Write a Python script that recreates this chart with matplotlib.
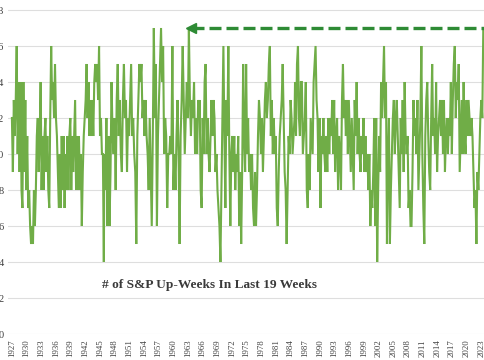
import numpy as np
import matplotlib.pyplot as plt

# number of up-weeks in the trailing 19 weeks in five stretches
seg1_span = (1927.0, 1945.8)
seg1 = [12, 9, 13, 11, 13, 16, 10, 14, 9, 14, 8, 7, 14, 9, 13, 8, 11, 7, 8, 6,
        5, 6, 5, 8, 6, 8, 11, 12, 9, 11, 14, 8, 11, 8, 11, 12, 9, 11, 8, 7,
        12, 16, 13, 14, 12, 15, 12, 11, 9, 7, 10, 7, 11, 8, 11, 7, 10, 8, 11, 8,
        11, 12, 8, 11, 9, 11, 13, 8, 11, 8, 11, 8, 10, 6, 9, 11, 12, 13, 15, 12,
        14, 11, 13, 11, 13, 11, 14, 15, 14, 15, 13, 16, 11, 12, 10, 10, 4]

seg2_span = (1945.9, 1965.3)
seg2 = [10, 8, 12, 6, 11, 6, 9, 14, 11, 10, 12, 8, 13, 15, 11, 13, 10, 9, 13, 15,
        12, 13, 9, 12, 11, 13, 15, 11, 12, 10, 9, 5, 11, 13, 15, 14, 15, 12, 13, 11,
        13, 11, 10, 8, 12, 9, 6, 11, 17, 12, 15, 6, 11, 13, 15, 17, 14, 16, 10, 12,
        11, 7, 10, 10, 11, 10, 16, 8, 10, 8, 11, 13, 10, 5, 11, 13, 16, 13, 10, 12,
        14, 12, 17, 13, 11, 13, 12, 14, 10, 12, 10, 13, 12]

seg3_span = (1965.4, 1984.8)
seg3 = [13, 8, 7, 12, 10, 14, 15, 10, 12, 10, 9, 11, 13, 11, 13, 12, 9, 10, 8, 7,
        6, 4, 8, 12, 16, 11, 7, 13, 11, 16, 10, 6, 10, 11, 9, 11, 8, 10, 9, 11,
        6, 9, 5, 9, 15, 11, 9, 15, 10, 12, 9, 10, 8, 10, 7, 6, 9, 6, 8, 11,
        13, 12, 10, 12, 9, 11, 13, 14, 12, 13, 15, 16, 11, 13, 10, 12, 10, 11, 7, 6,
        9, 11, 12, 13, 15, 12, 9, 8, 5, 8, 11, 10, 13, 12, 10, 11, 12]

seg4_span = (1984.9, 2004.1)
seg4 = [14, 11, 15, 16, 12, 11, 14, 14, 10, 11, 12, 14, 8, 7, 10, 8, 12, 11, 10, 14,
        15, 16, 13, 12, 9, 12, 7, 11, 10, 12, 10, 9, 11, 9, 12, 10, 12, 11, 13, 10,
        13, 9, 11, 12, 8, 11, 10, 8, 13, 15, 12, 13, 11, 13, 10, 13, 11, 9, 12, 10,
        8, 13, 11, 14, 10, 12, 10, 9, 11, 10, 12, 9, 11, 9, 10, 8, 10, 6, 8, 7,
        9, 12, 6, 12, 4, 8, 11, 9, 14, 12, 14, 16, 12, 14, 5, 10, 12]

seg5_span = (2004.3, 2023.4)
seg5 = [5, 8, 10, 12, 13, 10, 12, 13, 11, 9, 7, 12, 10, 13, 9, 14, 11, 10, 11, 7,
        8, 6, 6, 9, 13, 11, 12, 10, 13, 8, 10, 12, 16, 10, 7, 5, 11, 13, 14, 11,
        9, 8, 12, 15, 11, 12, 10, 14, 9, 11, 12, 13, 11, 13, 10, 13, 9, 11, 12, 10,
        12, 11, 14, 10, 13, 15, 16, 12, 14, 13, 15, 9, 11, 13, 10, 14, 11, 10, 13, 11,
        13, 12, 11, 12, 11, 9, 7, 8, 5, 9, 8, 10, 12, 13, 12, 17]

segments = [(seg1_span, seg1), (seg2_span, seg2), (seg3_span, seg3),
            (seg4_span, seg4), (seg5_span, seg5)]

year_ticks = list(range(1927, 2024, 3))
y_ticks = list(range(0, 19, 2))
label = '# of S&P Up-Weeks In Last 19 Weeks'

years = np.concatenate([np.linspace(s[0], s[1], len(v)) for s, v in segments])
ups = np.concatenate([v for s, v in segments])

fig = plt.figure(figsize=(4.85, 3.6), dpi=100)
ax = fig.add_axes([8 / 485, 26 / 360, 1 - 8 / 485, 334 / 360])

ax.plot(years, ups, color='#70ad47', lw=1.5, solid_joinstyle='miter', zorder=3)

# arrow back to the last time the count was this high
last_val = ups[-1]
prev = np.where(ups[:-1] >= last_val)[0][-1]
ax.plot([years[prev] + 0.6, years[-1] + 0.5], [last_val, last_val], ls=(0, (3.6, 1.5)),
        color='#2e8b35', lw=2.4, zorder=4)
ax.plot(years[prev] + 0.5, last_val, marker='<', ms=7, color='#2e8b35', mec='#2e8b35', zorder=5)

ax.set_xlim(1926.2, 2023.75)
ax.set_ylim(0, 334 / 18)
ax.set_yticks(y_ticks)
ax.set_xticks(year_ticks)
ax.set_xticklabels([str(y) for y in year_ticks], rotation=90, fontsize=6.3,
                   family='Liberation Serif', color='#404040')
ax.set_yticklabels([str(v) for v in y_ticks], fontsize=7.5,
                   family='Liberation Serif', color='#404040')
ax.tick_params(axis='both', length=0)
ax.tick_params(axis='x', pad=4)
ax.tick_params(axis='y', pad=3)
ax.grid(axis='y', color='#dedede', lw=0.8)
ax.set_axisbelow(True)
for s in ax.spines.values():
    s.set_visible(False)

fig.text(102 / 485, 1 - 285 / 360, label, ha='left', va='center', fontsize=9.6,
         fontweight='bold', family='Liberation Serif', color='#3a3a3a')

fig.savefig('out.png', dpi=100)
